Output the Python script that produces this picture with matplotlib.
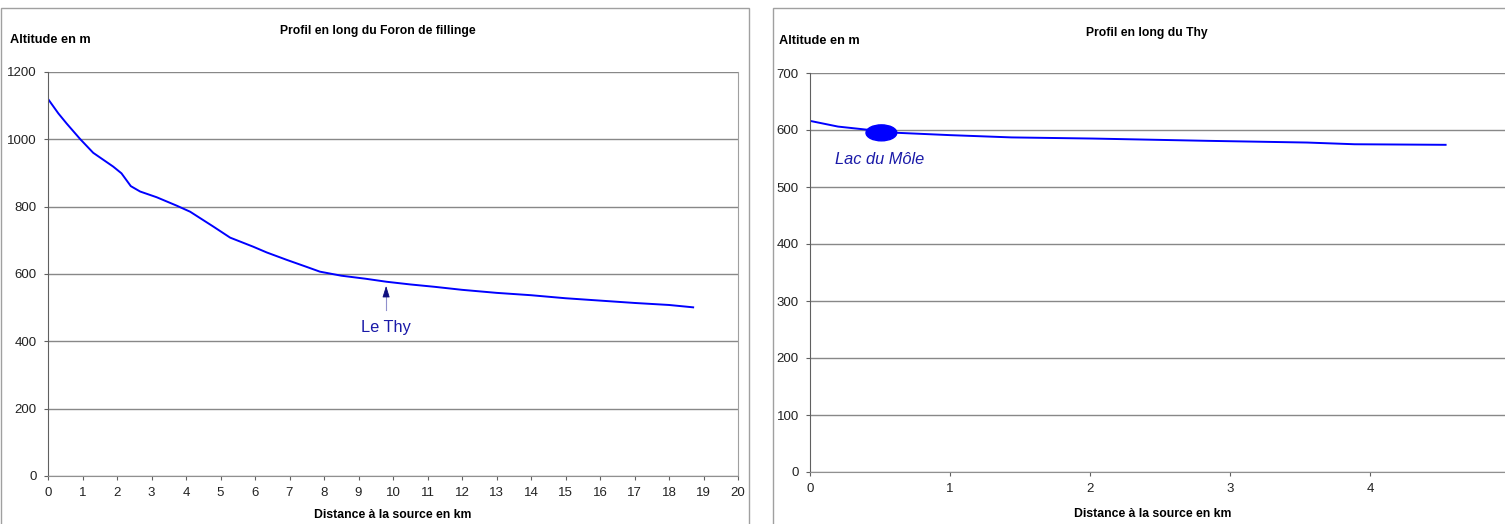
import matplotlib.pyplot as plt
from matplotlib.patches import Ellipse, Rectangle

# Profil du Foron de Fillinge
dist_foron = [0, 0.3, 0.54, 0.93, 1.31, 1.89, 2.13, 2.4, 2.67, 3.15, 3.73, 4.12,
              4.79, 5.28, 5.95, 6.34, 6.92, 7.5, 7.88, 8.5, 9.2, 9.81, 10.5, 11.2,
              12, 13, 14, 15, 16, 17, 18, 18.7]
alt_foron = [1120, 1077, 1047, 1001, 960, 919, 899, 861, 845, 828, 803, 785,
             741, 708, 681, 664, 642, 621, 607, 595, 586, 577, 569, 562,
             553, 544, 537, 528, 521, 514, 508, 501]

# Profil du Thy
dist_thy = [0, 0.2, 0.39, 0.63, 1.0, 1.44, 2.02, 2.84, 3.55, 3.89, 4.54]
alt_thy = [616, 606, 601, 595, 591, 587, 585, 581, 578, 575, 574]

lac_pos = (0.51, 595)
thy_confluence = 9.8

plt.rcParams['font.family'] = ['Liberation Sans', 'DejaVu Sans']

fig = plt.figure(figsize=(15.05, 5.24), dpi=100)

# panel frames
fig.patches.append(Rectangle((0.5 / 1505, -0.1), 748 / 1505, 1 - 8 / 524 + 0.1,
                             transform=fig.transFigure, fill=False,
                             edgecolor='#a0a0a0', lw=1))
fig.patches.append(Rectangle((773 / 1505, -0.1), 0.5, 1 - 8 / 524 + 0.1,
                             transform=fig.transFigure, fill=False,
                             edgecolor='#a0a0a0', lw=1))


def style_axis(ax):
    ax.grid(axis='y', color='#888888', lw=1)
    ax.set_axisbelow(True)
    ax.spines['left'].set_color('#606060')
    ax.spines['bottom'].set_color('#909090')
    ax.spines['top'].set_visible(False)
    ax.spines['right'].set_color('#a0a0a0')
    ax.tick_params(direction='out', length=3, width=0.8, color='#606060',
                   labelsize=9.5, labelcolor='#222222', pad=5)


ax1 = fig.add_axes([48 / 1505, 1 - 476 / 524, 690 / 1505, 404 / 524])
ax1.plot(dist_foron, alt_foron, color='#0000ff', lw=1.4)
ax1.set_xlim(0, 20)
ax1.set_ylim(0, 1200)
ax1.set_xticks(range(0, 21))
ax1.set_yticks(range(0, 1201, 200))
style_axis(ax1)
ax1.set_xlabel('Distance à la source en km', fontsize=8.8, fontweight='bold')
ax1.xaxis.set_label_coords(0.5, -0.082)
# flèche de confluence : tige claire, pointe foncée
ax1.plot([thy_confluence, thy_confluence], [493, 555], color='#9090cc', lw=0.8)
ax1.annotate('', xy=(thy_confluence, 573), xytext=(thy_confluence, 545),
             arrowprops=dict(arrowstyle='-|>,head_length=0.7,head_width=0.22',
                             color='#101080', lw=0.6))
ax1.text(thy_confluence, 440, 'Le Thy', color='#1a1aa8', fontsize=11.8,
         ha='center', va='center')
fig.text(10 / 1505, 1 - 40 / 524, 'Altitude en m', fontsize=9.2, fontweight='bold',
         va='center')
fig.text(378 / 1505, 1 - 31 / 524, 'Profil en long du Foron de fillinge', fontsize=8.7,
         fontweight='bold', ha='center', va='center')

ax2 = fig.add_axes([810 / 1505, 1 - 472 / 524, 700 / 1505, 399 / 524])
ax2.plot(dist_thy, alt_thy, color='#0000ff', lw=1.4)
ax2.add_patch(Ellipse(lac_pos, 0.22, 28, color='#0000ff'))
ax2.set_xlim(0, 5)
ax2.set_ylim(0, 700)
ax2.set_xticks(range(0, 5))
ax2.set_yticks(range(0, 701, 100))
style_axis(ax2)
ax2.spines['right'].set_visible(False)
ax2.set_xlabel('Distance à la source en km', fontsize=8.8, fontweight='bold')
ax2.xaxis.set_label_coords((1153 - 810) / 700, -0.09)
ax2.text(0.18, 548, 'Lac du Môle', color='#1a1aa8', fontsize=11.8, style='italic',
         ha='left', va='center')
fig.text(779 / 1505, 1 - 41 / 524, 'Altitude en m', fontsize=9.2, fontweight='bold',
         va='center')
fig.text(1147 / 1505, 1 - 33 / 524, 'Profil en long du Thy', fontsize=8.7,
         fontweight='bold', ha='center', va='center')

fig.savefig('out.png', dpi=100)
